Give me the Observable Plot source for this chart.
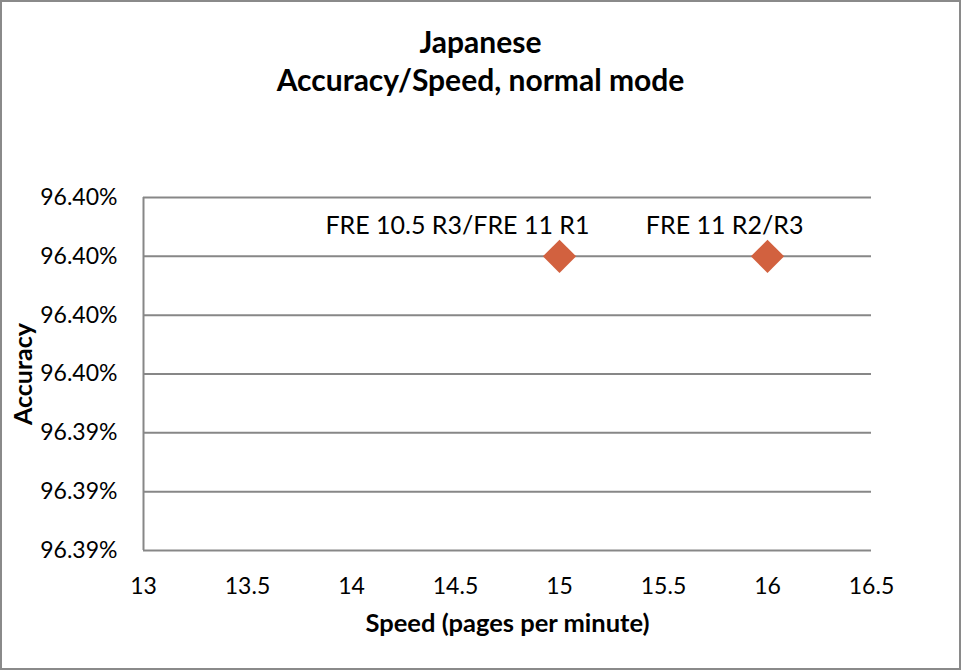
<!DOCTYPE html>
<html>
<head>
<meta charset="utf-8">
<script src="https://cdn.jsdelivr.net/npm/d3@7"></script>
<script src="https://cdn.jsdelivr.net/npm/@observablehq/plot@0.6"></script>
<style>
  html, body { margin: 0; padding: 0; background: #fff; }
  #wrap { position: relative; width: 961px; height: 670px; overflow: hidden; font-family: Lato, sans-serif; background: #fff; }
  #frame { position: absolute; left: 0; top: 0; width: 961px; height: 670px; box-sizing: border-box; border: 2px solid #8a8a8a; pointer-events: none; }
  #title { position: absolute; left: 0; top: 22px; width: 961px; text-align: center; font-weight: bold; font-size: 30px; line-height: 38px; color: #000; }
  #chart { position: absolute; left: 0; top: 110px; }
</style>
</head>
<body>
<div id="wrap">
  <div id="title">Japanese<br>Accuracy/Speed, normal mode</div>
  <div id="chart"></div>
  <div id="frame"></div>
</div>
<script>
const titleLines = ["Japanese", "Accuracy/Speed, normal mode"];
const labels = ["FRE 10.5 R3/FRE 11 R1", "FRE 11 R2/R3"];
const speed = [15, 16];
const accuracy = [0.964, 0.964];
const xTicks = [13, 13.5, 14, 14.5, 15, 15.5, 16, 16.5];
const yTicks = [0.9639, 0.96392, 0.96394, 0.96396, 0.96398, 0.964, 0.96402];
const xLabel = "Speed (pages per minute)";
const yLabel = "Accuracy";

const data = labels.map((label, i) => ({label, speed: speed[i], accuracy: accuracy[i]}));
const fmt = d3.format(".2%");
const grid = "#878787";
const markerColor = "#d2613f";

const chart = Plot.plot({
  width: 961,
  height: 560,
  marginLeft: 143,
  marginRight: 90,
  marginTop: 87,
  marginBottom: 120,
  style: {fontFamily: "Lato, sans-serif", fontSize: "23px", color: "#000", background: "transparent", overflow: "visible"},
  x: {domain: [13, 16.5], ticks: xTicks, tickFormat: d => String(d), tickSize: 0, tickPadding: 27, label: null},
  y: {domain: [yTicks[0], yTicks[yTicks.length - 1]], ticks: yTicks, tickFormat: fmt, tickSize: 0, tickPadding: 26, label: null},
  marks: [
    Plot.ruleY(yTicks, {stroke: grid, strokeWidth: 2}),
    Plot.ruleX([13], {stroke: grid, strokeWidth: 2}),
    Plot.dot(data, {x: "speed", y: "accuracy", symbol: "diamond2", r: 15, fill: markerColor, stroke: "none"}),
    Plot.text(data.slice(0, 1), {x: "speed", y: "accuracy", text: "label", textAnchor: "end", dx: 30, dy: -30, fontSize: 25, fill: "#000"}),
    Plot.text(data.slice(1, 2), {x: "speed", y: "accuracy", text: "label", textAnchor: "end", dx: 36, dy: -30, fontSize: 25, fill: "#000"}),
    Plot.text([xLabel], {frameAnchor: "bottom", textAnchor: "middle", lineAnchor: "middle", dy: 73.5, fontSize: 25.5, fontWeight: "bold", fill: "#000"}),
    Plot.text([yLabel], {frameAnchor: "left", textAnchor: "middle", lineAnchor: "middle", rotate: -90, dx: -120, fontSize: 25, fontWeight: "bold", fill: "#000"})
  ]
});
document.getElementById("chart").appendChild(chart);
</script>
</body>
</html>
